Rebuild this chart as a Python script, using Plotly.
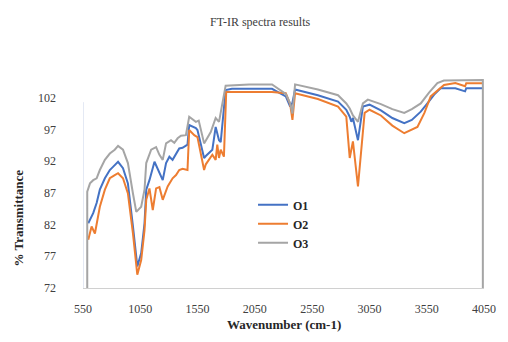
import plotly.graph_objects as go

# ---------------- data ----------------
o1_x = [596, 639, 669, 697, 741, 784, 812, 856, 899, 942, 986, 1024, 1058, 1087,
        1102, 1130, 1174, 1217, 1246, 1275, 1304, 1332, 1362, 1390, 1419, 1462,
        1477, 1535, 1549, 1607, 1622, 1679, 1708, 1737, 1752, 1795, 1850, 2000,
        2200, 2320, 2358, 2378, 2401, 2600, 2776, 2848, 2878, 2892, 2906, 2950,
        2993, 3051, 3150, 3250, 3354, 3420, 3498, 3556, 3620, 3671, 3800, 3885,
        3895, 4040]
o1_y = [82.2, 83.8, 85.4, 87.5, 89.3, 90.6, 91.1, 91.9, 90.9, 88.5, 81.7, 75.4, 77.5, 82.2,
        87.5, 89.0, 91.9, 90.1, 89.0, 91.7, 92.7, 92.2, 93.2, 94.0, 94.1, 94.6,
        97.7, 97.2, 96.9, 92.5, 92.8, 93.8, 97.4, 95.3, 95.0, 103.2, 103.4, 103.4,
        103.4, 102.2, 100.6, 101.2, 103.3, 102.4, 101.4, 100.1, 99.0, 98.2, 98.8, 95.3,
        100.6, 100.9, 100.0, 98.8, 98.0, 98.5, 99.8, 101.1, 102.6, 103.5, 103.5, 103.0,
        103.5, 103.5]

o2_x = [596, 625, 654, 697, 741, 784, 827, 856, 899, 942, 986, 1024, 1058, 1087,
        1102, 1130, 1159, 1188, 1217, 1246, 1289, 1332, 1362, 1390, 1419, 1462,
        1477, 1521, 1549, 1607, 1622, 1679, 1708, 1722, 1737, 1752, 1780, 1800,
        2000, 2200, 2320, 2358, 2378, 2401, 2600, 2776, 2848, 2878, 2906, 2950,
        3008, 3051, 3150, 3250, 3354, 3469, 3530, 3585, 3701, 3800, 3885, 3895, 4040]
o2_y = [79.6, 81.7, 80.6, 84.8, 87.5, 89.3, 89.8, 90.1, 89.3, 86.9, 80.6, 74.1, 76.4, 81.1,
        85.9, 87.7, 84.3, 87.7, 87.9, 85.9, 88.0, 89.3, 89.8, 90.6, 90.8, 90.6,
        96.9, 96.1, 95.8, 90.6, 91.5, 93.0, 92.2, 94.6, 92.5, 93.8, 92.7, 102.9,
        102.9, 102.9, 102.7, 101.0, 98.5, 102.7, 101.8, 100.6, 99.0, 92.5, 95.1, 88.0,
        99.6, 100.1, 99.2, 97.6, 96.4, 97.4, 99.6, 102.2, 104.0, 104.3, 103.8, 104.3, 104.3]

o3_x = [587, 587, 611, 639, 669, 697, 741, 784, 827, 856, 899, 942, 986, 1015, 1058, 1087,
        1102, 1145, 1188, 1217, 1246, 1275, 1318, 1347, 1376, 1405, 1448,
        1477, 1535, 1560, 1607, 1665, 1708, 1737, 1795, 2000, 2200, 2320, 2358,
        2378, 2401, 2600, 2776, 2848, 2878, 2892, 2906, 2950, 2993, 3036, 3150,
        3250, 3354, 3420, 3498, 3570, 3643, 3700, 3900, 4040, 4040]
o3_y = [55.0, 87.2, 88.5, 89.0, 89.3, 90.6, 92.2, 93.2, 93.8, 94.4, 93.8, 91.7, 86.9, 84.0, 84.8, 87.5,
        91.7, 93.8, 94.2, 93.0, 92.2, 94.8, 95.3, 94.9, 95.6, 96.0, 96.1,
        99.0, 98.2, 98.4, 94.8, 96.6, 98.8, 98.2, 103.9, 104.1, 104.1, 102.6, 101.1,
        99.5, 104.1, 103.3, 102.4, 101.1, 100.3, 99.6, 99.2, 98.2, 101.1, 101.7, 101.0,
        100.2, 99.6, 100.2, 101.1, 102.8, 104.3, 104.7, 104.8, 104.8, 55.0]

series_names = ["O1", "O2", "O3"]
series_colors = ["#4472C4", "#ED7D31", "#A5A5A5"]

x_ticks = [550, 1050, 1550, 2050, 2550, 3050, 3550, 4050]
x_tick_labels = ["550", "1050", "1550", "2050", "2550", "3050", "3550", "4050"]
y_ticks = [72, 77, 82, 87, 92, 97, 102]
y_tick_labels = ["72", "77", "82", "87", "92", "97", "102"]

title_text = "FT-IR spectra results"
x_title = "Wavenumber (cm-1)"
y_title = "% Transmittance"

# ---------------- figure ----------------
SERIF = "Liberation Serif, Times New Roman, serif"
X_MIN, X_MAX = 550, 4050
Y_MIN, Y_MAX = 72, 107
Y_LINE_TOP = 101.3   # visible extent of the left axis line in the reference

fig = go.Figure()
for name, xs, ys, col in zip(series_names, [o1_x, o2_x, o3_x], [o1_y, o2_y, o3_y], series_colors):
    fig.add_trace(go.Scatter(x=xs, y=ys, mode="lines", name=name,
                             line=dict(color=col, width=2)))

fig.update_layout(
    width=508, height=342,
    margin=dict(l=83, r=21, t=66, b=54),
    paper_bgcolor="white", plot_bgcolor="white",
    font=dict(family=SERIF, size=12, color="#404040"),
    showlegend=True,
    legend=dict(x=0.424, y=0.44, xanchor="left", yanchor="top",
                bgcolor="rgba(0,0,0,0)", borderwidth=0,
                font=dict(family=SERIF, size=12, color="#262626", weight="bold"),
                tracegroupgap=0, itemwidth=30),
    shapes=[dict(type="line", xref="x", yref="y", x0=X_MIN, x1=X_MIN,
                 y0=Y_MIN, y1=Y_LINE_TOP, line=dict(color="#C9D3EA", width=1),
                 layer="below")],
    annotations=[
        dict(text=title_text, xref="paper", yref="paper", x=0.443, y=1.198,
             showarrow=False, font=dict(family=SERIF, size=12, color="#404040"),
             xanchor="center", yanchor="middle"),
        dict(text=x_title, xref="paper", yref="paper", x=0.5, y=-0.165,
             showarrow=False, font=dict(family=SERIF, size=13, color="#262626", weight="bold"),
             xanchor="center", yanchor="middle"),
        dict(text=y_title, xref="paper", yref="paper", x=-0.161, y=0.315,
             showarrow=False, textangle=-90,
             font=dict(family=SERIF, size=13, color="#262626", weight="bold"),
             xanchor="center", yanchor="middle"),
    ],
)

fig.update_xaxes(range=[X_MIN, X_MAX], tickvals=x_ticks, ticktext=x_tick_labels,
                 showgrid=False, zeroline=False, showline=True, linecolor="#D0D0D0",
                 linewidth=1, ticks="", ticklabelstandoff=10,
                 tickfont=dict(family=SERIF, size=12, color="#404040"))
fig.update_yaxes(range=[Y_MIN, Y_MAX], tickvals=y_ticks, ticktext=y_tick_labels,
                 showgrid=False, zeroline=False, showline=False,
                 ticks="", ticklabelstandoff=26,
                 tickfont=dict(family=SERIF, size=12, color="#404040"))

fig.write_html("out.html")
